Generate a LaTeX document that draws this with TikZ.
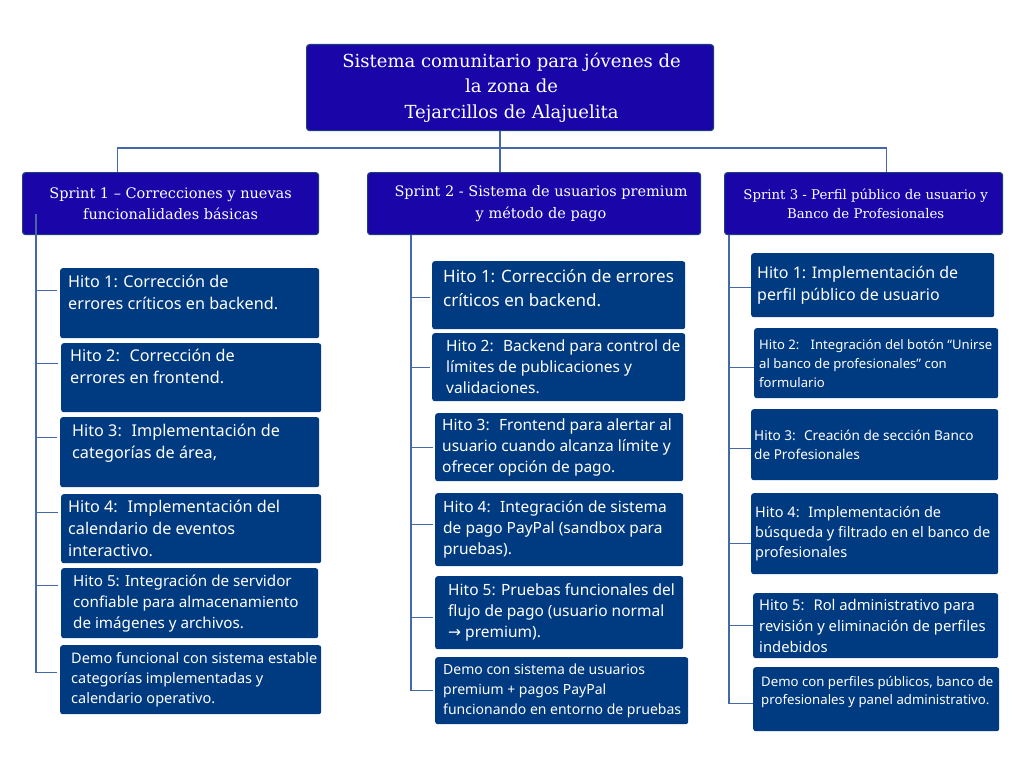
\documentclass[tikz,border=0pt]{standalone}
\usepackage{fontspec}
\setmainfont{DejaVu Serif}
\newfontfamily\hitofont{Noto Sans}
\newfontfamily\arrowfont{DejaVu Sans}
\usetikzlibrary{arrows.meta}

\definecolor{hdrblue}{HTML}{1A05A8}
\definecolor{hdrline}{HTML}{1F3C7C}
\definecolor{hitoblue}{HTML}{003A80}
\definecolor{linkblue}{HTML}{4468A8}

\newcommand{\hfs}[2]{\hitofont\fontsize{#1}{#2}\selectfont}
\newcommand{\sfs}[2]{\fontsize{#1}{#2}\selectfont}

\begin{document}
\begin{tikzpicture}[x=1pt, y=-1pt,
  hdr/.style 2 args={fill=hdrblue, draw=hdrline, line width=1.2pt, rounded corners=3pt,
              text=white, anchor=north west, inner xsep=0pt, inner ysep=2pt,
              minimum width=#1, text width=#1, align=center,
              execute at begin node={\spaceskip=0pt\xspaceskip=0pt\parfillskip=0pt%
                \leftskip=#2 plus 1fil\rightskip=0pt plus 1fil}},
  hito/.style n args={2}{fill=hitoblue, rounded corners=2.5pt, text=white,
              anchor=north west, inner xsep=0pt, inner ysep=2pt,
              minimum width=#1, text width=#1, align=left,
              execute at begin node={\spaceskip=0pt\xspaceskip=0pt\leftskip=#2%
                \rightskip=0pt plus 1fil minus 40pt}},
  link/.style={draw=linkblue, line width=1.3pt}]

  \fill[white] (0,0) rectangle (1024,768);
  \useasboundingbox (0,0) rectangle (1024,768);

  % Root and sprints
  \node[hdr={407}{3pt}, minimum height=86, font=\sfs{18}{25.5}] (root) at (306,44)
    {Sistema comunitario para jóvenes de\\la zona de\\Tejarcillos de Alajuelita};
  \node[hdr={296}{0pt}, minimum height=62, font=\sfs{14.5}{21}] (s1) at (22,172)
    {Sprint 1 – Correcciones y nuevas\\funcionalidades básicas};
  \node[hdr={333}{14pt}, minimum height=62, font=\sfs{14.5}{21}] (s2) at (367,172)
    {Sprint 2 - Sistema de usuarios premium\\y método de pago};
  \node[hdr={278}{4pt}, minimum height=62, font=\sfs{13.3}{19}] (s3) at (724,172)
    {Sprint 3 - Perfil público de usuario y\\Banco de Profesionales};

  % Sprint 1 milestones
  \node[hito={259}{8pt}, minimum height=70, font=\hfs{16.2}{22}] (s1h1) at (60,268)
    {Hito 1: Corrección de\\errores críticos en backend.\\\mbox{}};
  \node[hito={260}{9pt}, minimum height=69, font=\hfs{16.2}{22}] (s1h2) at (61,343)
    {Hito 2:~ Corrección de\\errores en frontend.\\\mbox{}};
  \node[hito={259}{12pt}, minimum height=70, font=\hfs{16.2}{22}] (s1h3) at (60,417)
    {Hito 3:~ Implementación de\\categorías de área,\\\mbox{}};
  \node[hito={260}{7pt}, minimum height=69, font=\hfs{16.2}{22}] (s1h4) at (61,494)
    {Hito 4:~ Implementación del\\calendario de eventos\\interactivo.};
  \node[hito={257}{12pt}, minimum height=70, font=\hfs{15.2}{21}] (s1h5) at (61,568)
    {Hito 5: Integración de servidor\\confiable para almacenamiento\\de imágenes y archivos.};
  \node[hito={261}{11pt}, minimum height=69, font=\hfs{14.5}{20}] (s1d) at (60,645)
    {Demo funcional con sistema estable\\categorías implementadas y\\calendario operativo.};

  % Sprint 2 milestones
  \node[hito={253}{11pt}, minimum height=68, font=\hfs{17}{24}] (s2h1) at (432,261)
    {Hito 1: Corrección de errores\\críticos en backend.\\[-10pt]\mbox{}};
  \node[hito={253}{14pt}, minimum height=68, font=\hfs{15.5}{21}] (s2h2) at (432,333)
    {Hito 2:~ Backend para control de\\límites de publicaciones y\\validaciones.};
  \node[hito={248}{7pt}, minimum height=68, font=\hfs{15.5}{21}] (s2h3) at (435,413)
    {Hito 3:~ Frontend para alertar al\\usuario cuando alcanza límite y\\ofrecer opción de pago.};
  \node[hito={248}{8pt}, minimum height=73, font=\hfs{15.5}{21}] (s2h4) at (435,493)
    {Hito 4:~ Integración de sistema\\de pago PayPal (sandbox para\\pruebas).};
  \node[hito={248}{13pt}, minimum height=73, font=\hfs{15.5}{21}] (s2h5) at (435,576)
    {Hito 5: Pruebas funcionales del\\flujo de pago (usuario normal\\{\arrowfont →} premium).};
  \node[hito={253}{8pt}, minimum height=67, font=\hfs{14}{20}] (s2d) at (435,657)
    {Demo con sistema de usuarios\\premium + pagos PayPal\\funcionando en entorno de pruebas};

  % Sprint 3 milestones
  \node[hito={243}{6pt}, minimum height=64, font=\hfs{16}{22}] (s3h1) at (751,253)
    {Hito 1: Implementación de\\perfil público de usuario};
  \node[hito={244}{5pt}, minimum height=70, font=\hfs{13.1}{19}] (s3h2) at (754,328)
    {Hito 2:~~ Integración del botón “Unirse\\al banco de profesionales” con\\formulario};
  \node[hito={247}{3pt}, minimum height=71, font=\hfs{13.6}{19}] (s3h3) at (751,409)
    {Hito 3:~ Creación de sección Banco\\de Profesionales};
  \node[hito={247}{4pt}, minimum height=81, font=\hfs{14.5}{20}] (s3h4) at (751,493)
    {Hito 4:~ Implementación de\\búsqueda y filtrado en el banco de\\profesionales};
  \node[hito={245}{6pt}, minimum height=65, font=\hfs{14.8}{21}] (s3h5) at (753,593)
    {Hito 5:~ Rol administrativo para\\revisión y eliminación de perfiles\\indebidos};
  \node[hito={246}{8pt}, minimum height=64, font=\hfs{13.2}{18}] (s3d) at (753,667)
    {Demo con perfiles públicos, banco de\\profesionales y panel administrativo.\\\mbox{}};

  % Root to sprints
  \draw[link] ([xshift=-10pt]root.south) -- ([xshift=-34pt]s2.north);
  \draw[link] ([xshift=-53pt]s1.north) -- ++(0,-24) -| ([xshift=23pt]s3.north);

  % Sprint spines
  \coordinate (s1top) at ([xshift=14pt, yshift=21pt]s1.south west);
  \coordinate (s2top) at ([xshift=44pt]s2.south west);
  \coordinate (s3top) at ([xshift=5pt]s3.south west);

  \foreach \h/\dy in {s1h1/13, s1h2/14.5, s1h3/15, s1h4/16.5, s1h5/18, s1d/7.5}
    \draw[link] (s1top) |- ([xshift=-3pt, yshift=\dy pt]\h.west);
  \foreach \h/\dy in {s2h1/-2, s2h2/0, s2h3/0, s2h4/5.5, s2h5/-4.5, s2d/0}
    \draw[link] (s2top) |- ([xshift=-2pt, yshift=\dy pt]\h.west);
  \foreach \h/\dy in {s3h1/-2, s3h2/-4, s3h3/-3.5, s3h4/-9.5, s3h5/0, s3d/-4}
    \draw[link] (s3top) |- ([yshift=\dy pt]\h.west);
\end{tikzpicture}
\end{document}
